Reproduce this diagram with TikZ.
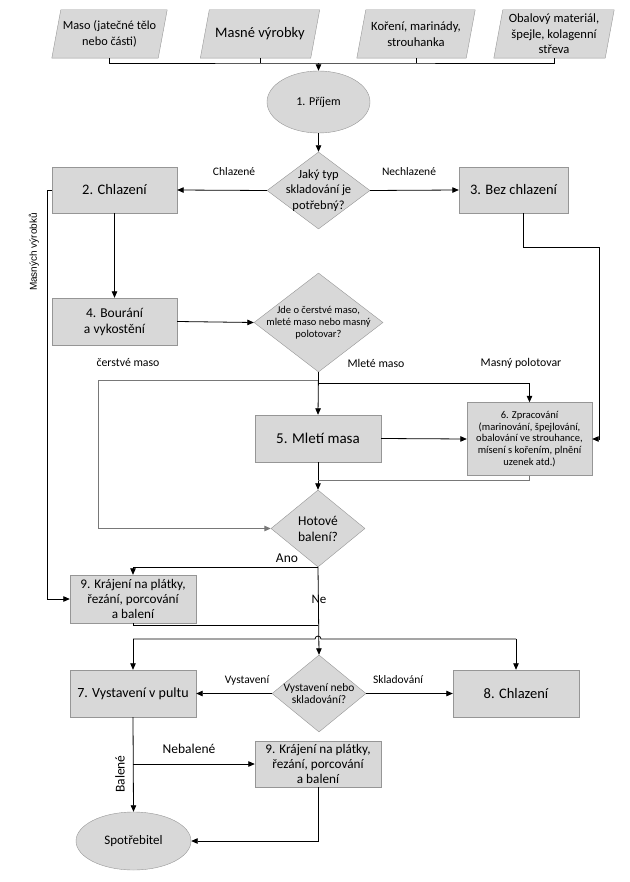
\documentclass[tikz,border=0pt]{standalone}
\usepackage{fontspec}
\setmainfont{Carlito}
\newfontfamily\sidefont{Liberation Sans}
\usetikzlibrary{shapes.geometric,arrows.meta,backgrounds}
\definecolor{boxfill}{RGB}{216,216,216}
\definecolor{boxline}{RGB}{150,150,150}
\definecolor{linegray}{RGB}{120,120,120}
\begin{document}
\begin{tikzpicture}[x=1pt,y=-1pt,
  >={Triangle[length=6.5pt,width=5.5pt]},
  proc/.style={rectangle,draw=boxline,fill=boxfill,align=center,inner sep=1pt},
  dia/.style={diamond,draw=boxline,fill=boxfill,inner sep=0pt},
  io/.style={rectangle,align=center,inner sep=0pt,minimum height=48},
  iobox/.style={draw=boxline,fill=boxfill},
  term/.style={ellipse,draw=boxline,fill=boxfill,inner sep=0pt},
  fA/.style={font=\fontsize{14.5}{16}\selectfont},
  fB/.style={font=\fontsize{13.2}{15}\selectfont},
  lbl/.style={font=\fontsize{11.5}{13}\selectfont},
  lblb/.style={font=\fontsize{11.8}{13}\selectfont},
  conn/.style={draw=black,line width=0.8pt},
  gconn/.style={draw=linegray,line width=1pt},
  arr/.style={conn,->},
  garr/.style={gconn,->}
]
\useasboundingbox (0,0) rectangle (629,882);

% inputs
\node[io,font=\fontsize{12.3}{16}\selectfont,minimum width=106] (p1) at (109.5,34) {Maso (jatečné tělo\\nebo části)};
\node[io,font=\fontsize{14.5}{16}\selectfont,minimum width=110] (p2) at (260,34) {Masné výrobky};
\node[io,font=\fontsize{12.6}{16}\selectfont,minimum width=109] (p3) at (416,34) {Koření, marinády,\\strouhanka};
\node[io,font=\fontsize{12.6}{15.5}\selectfont,minimum width=111] (p4) at (554,34) {Obalový materiál,\\špejle, kolagenní\\střeva};
\begin{scope}[on background layer]
  \foreach \n in {p1,p2,p3,p4}{
    \draw[iobox] ([xshift=-4.5pt]\n.south west) -- ([xshift=4.5pt]\n.north west)
      -- ([xshift=4.5pt]\n.north east) -- ([xshift=-4.5pt]\n.south east) -- cycle;}
\end{scope}

\coordinate (bus) at (318.5,63);

% main shapes
\node[term,font=\fontsize{12}{14}\selectfont,minimum width=103,minimum height=62] (e1) at (318.5,102) {1. Příjem};
\node[dia,minimum width=103,minimum height=77,
  label={[align=center,font=\fontsize{12.5}{15.5}\selectfont]center:Jaký typ\\skladování je\\potřebný?}] (d1) at (318.5,190.5) {};
\node[proc,fA,minimum width=125,minimum height=46] (b2) at (114.5,190) {2. Chlazení};
\node[proc,fA,minimum width=109,minimum height=46] (b3) at (513.5,190) {3. Bez chlazení};
\node[proc,font=\fontsize{13.5}{16}\selectfont,minimum width=125,minimum height=47] (b4) at (114.5,321.5) {4. Bourání\\a vykostění};
\node[dia,minimum width=129,minimum height=99,
  label={[align=center,font=\fontsize{10.5}{12}\selectfont]center:Jde o čerstvé maso,\\mleté maso nebo masný\\polotovar?}] (d2) at (318.5,322.5) {};
\node[proc,font=\fontsize{15}{16}\selectfont,minimum width=126,minimum height=47] (b5) at (318,438.5) {5. Mletí masa};
\node[proc,font=\fontsize{10.5}{11.8}\selectfont,minimum width=125,minimum height=73] (b6) at (529.5,439) {6. Zpracování\\(marinování, špejlování,\\obalování ve strouhance,\\mísení s kořením, plnění\\uzenek atd.)};
\node[dia,minimum width=94,minimum height=77,
  label={[align=center,font=\fontsize{13.5}{16}\selectfont]center:Hotové\\balení?}] (d3) at (318,528.5) {};
\node[proc,fB,minimum width=126,minimum height=48] (b9a) at (133,599) {9. Krájení na plátky,\\řezání, porcování\\a balení};
\node[dia,minimum width=94,minimum height=77,
  label={[align=center,font=\fontsize{11.5}{12.7}\selectfont]center:Vystavení nebo\\skladování?}] (d4) at (319,693.5) {};
\node[proc,font=\fontsize{14}{16}\selectfont,minimum width=126,minimum height=47] (b7) at (133,693.5) {7. Vystavení v pultu};
\node[proc,fA,minimum width=126,minimum height=47] (b8) at (516,693.5) {8. Chlazení};
\node[proc,fB,minimum width=126,minimum height=46] (b9b) at (318,764) {9. Krájení na plátky,\\řezání, porcování\\a balení};
\node[term,font=\fontsize{13}{15}\selectfont,minimum width=115,minimum height=58] (e2) at (133.5,841) {Spotřebitel};

% helper coordinates
\coordinate (lx) at (47,190);
\coordinate (r1) at (599,247);
\coordinate (splitL) at (318,380);
\coordinate (splitR) at (318,383);
\coordinate (lb) at (98,380);
\coordinate (j6) at (318,480);
\coordinate (j9) at (318,625);
\coordinate (hL) at (133,639);
\coordinate (hop) at (318,639);
\coordinate (hR) at (516,639);

% connectors
\draw[conn] (p1.south) |- (bus) -| (p4.south);
\draw[conn] (p2.south) -- (p2.south |- bus);
\draw[conn] (p3.south) -- (p3.south |- bus);
\draw[arr] (bus) -- (e1.north);
\draw[arr] (e1.south) -- (d1.north);
\draw[arr] (d1.west) -- (b2.east);
\draw[arr] (d1.east) -- (b3.west);
\draw[arr] (b2.west) -- (lx) |- (b9a.west);
\draw[arr] (b2.south) -- (b4.north);
\draw[arr] ([xshift=9.5pt]b3.south) |- (r1) |- (b6.east);
\draw[arr] (b4.east) -- (d2.west);
\draw[arr] (d2.south) -- (b5.north);
\draw[arr] (splitR) -| (b6.north);
\draw[garr] (splitL) -- (lb) |- (d3.west);
\draw[arr] (b5.east) -- (b6.west);
\draw[arr] (b5.south) -- (d3.north);
\draw[gconn] (b6.south) |- (j6);
\draw[arr] (d3.south) -| (b9a.north);
\draw[arr] (d3.south) -- (d4.north);
\draw[conn] (b9a.south) |- (j9);
\draw[conn] (hL) -- ([xshift=-3pt]hop) arc[start angle=180,end angle=360,radius=3] -- (hR);
\draw[arr] (hL) -- (b7.north);
\draw[arr] (hR) -- (b8.north);
\draw[arr] (d4.west) -- (b7.east);
\draw[arr] (d4.east) -- (b8.west);
\draw[arr] (b7.south) -- (e2.north);
\draw[arr] (b7.south |- b9b.west) -- (b9b.west);
\draw[arr] (b9b.south) |- (e2.east);

% labels
\node[lbl] (tChl) at (234,172) {Chlazené};
\node[lbl] (tNech) at (409,172) {Nechlazené};
\node[rotate=90,font=\sidefont\fontsize{10}{12}\selectfont] (tMv) at (34,252) {Masných výrobků};
\node[lblb] (tCm) at (128,363) {čerstvé maso};
\node[lblb] (tMm) at (376,363) {Mleté maso};
\node[lblb] (tMp) at (521,363) {Masný polotovar};
\node[font=\fontsize{13.5}{15}\selectfont] (tAno) at (287,558) {Ano};
\node[font=\fontsize{13}{15}\selectfont] (tNe) at (319,599) {Ne};
\node[lbl] (tVy) at (247,680) {Vystavení};
\node[lbl] (tSk) at (398,680) {Skladování};
\node[font=\fontsize{13.5}{15}\selectfont] (tNeb) at (189,749) {Nebalené};
\node[rotate=90,font=\fontsize{13.5}{15}\selectfont] (tBal) at (120,774) {Balené};
\end{tikzpicture}
\end{document}
